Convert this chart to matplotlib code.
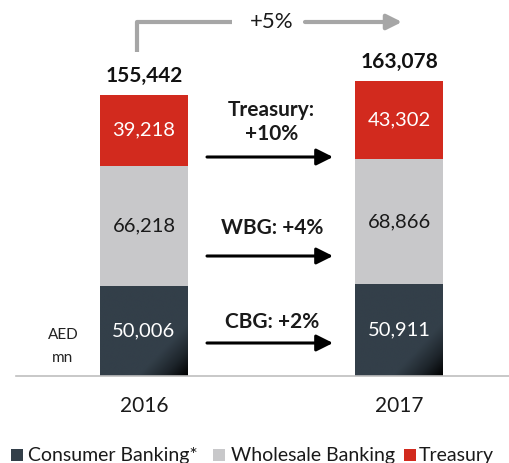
import numpy as np
import matplotlib
matplotlib.use("Agg")
import matplotlib.pyplot as plt
from matplotlib.colors import LinearSegmentedColormap

plt.rcParams["font.family"] = ["Lato", "DejaVu Sans"]

years = ["2016", "2017"]
segments = ["Consumer Banking*", "Wholesale Banking", "Treasury"]
consumer = [50006, 50911]
wholesale = [66218, 68866]
treasury = [39218, 43302]
totals = [155442, 163078]   # as reported (rounding in source)
growth_labels = ["CBG: +2%", "WBG: +4%", "Treasury:\n+10%"]
total_growth = "+5%"

RED, GREY, DARK = "#d22a1e", "#c8c8ca", "#333f49"

# figure is 510x463 px; axes fill it, limits chosen so bars land where the original has them
W, H = 510, 463
PX_X = 255.5          # px per category unit
PX_Y = 1 / 553.0      # px per AED mn
X0, BASE = 144, 376   # px position of first bar centre and baseline

fig = plt.figure(figsize=(W / 100, H / 100), dpi=100)
ax = fig.add_axes([0, 0, 1, 1])
ax.axis("off")


def px(x, y):
    return (x - X0) / PX_X, (BASE - y) / PX_Y


x = np.arange(len(years))
bw = 88 / PX_X
cb = np.array(consumer)
wb = np.array(wholesale)
tr = np.array(treasury)

# dark bars with a gradient toward the lower-right corner
cmap = LinearSegmentedColormap.from_list("cb", [DARK, DARK, "#1c2329", "#000000"])
u, v = np.meshgrid(np.linspace(0, 1, 100), np.linspace(0, 1, 100))
grad = np.clip((u + v - 0.9) / 1.1, 0, 1) ** 1.5
for xi, h in zip(x, cb):
    bar = ax.bar(xi, h, bw, color=DARK, lw=0)[0]
    im = ax.imshow(grad, cmap=cmap, extent=[xi - bw / 2, xi + bw / 2, 0, h],
                   aspect="auto", origin="upper", zorder=2)
    im.set_clip_path(bar)
ax.bar(x, wb, bw, bottom=cb, color=GREY, lw=0)
ax.bar(x, tr, bw, bottom=cb + wb, color=RED, lw=0)
ax.set_xlim(-X0 / PX_X, (W - X0) / PX_X)
ax.set_ylim(-(H - BASE) / PX_Y, BASE / PX_Y)

fs = 14.5
for xi in x:
    ax.text(xi, cb[xi] / 2, f"{cb[xi]:,}", color="white", ha="center", va="center", fontsize=fs, zorder=3)
    ax.text(xi, cb[xi] + wb[xi] / 2, f"{wb[xi]:,}", color="#1a1a1a", ha="center", va="center", fontsize=fs)
    ax.text(xi, cb[xi] + wb[xi] + tr[xi] / 2, f"{tr[xi]:,}", color="white", ha="center", va="center", fontsize=fs)
    ax.text(xi, cb[xi] + wb[xi] + tr[xi] + 5000, f"{totals[xi]:,}", ha="center", va="bottom",
            fontsize=15, fontweight="bold", color="#111111")
    ax.text(xi, px(0, 406)[1], years[xi], ha="center", va="center", fontsize=15, color="#1a1a1a")

# baseline
ax.plot([px(16, 0)[0], px(510, 0)[0]], [0, 0], color="#bfbfbf", lw=1.2)

# unit label
ax.text(*px(63, 335), "AED", ha="center", va="center", fontsize=11, color="#222222")
ax.text(*px(63, 358), "mn", ha="center", va="center", fontsize=11, color="#222222")

# segment growth arrows between bars
mid = 0.5
arrow_y = [343, 256, 157]
label_y = [322, 228, 122]
for ay, ly, lab in zip(arrow_y, label_y, growth_labels):
    ya = px(0, ay)[1]
    ax.annotate("", xy=(px(333, 0)[0], ya), xytext=(px(207, 0)[0], ya),
                arrowprops=dict(arrowstyle="-|>,head_length=1.0,head_width=0.5",
                                color="black", lw=2.2, shrinkA=0, shrinkB=0))
    ax.text(mid, px(0, ly)[1], lab, ha="center", va="center",
            fontsize=15, fontweight="bold", color="#1a1a1a", linespacing=1.3)

# total growth bracket arrow
ag = "#a6a6a6"
xl, yb = px(137, 52)
_, yt = px(0, 22)
ax.plot([xl, xl, px(232, 0)[0]], [yb, yt, yt], color=ag, lw=3, solid_capstyle="butt")
ax.annotate("", xy=(px(402, 0)[0], yt), xytext=(px(305, 0)[0], yt),
            arrowprops=dict(arrowstyle="-|>,head_length=0.9,head_width=0.45",
                            color=ag, lw=3, shrinkA=0, shrinkB=0))
ax.text(mid, yt, total_growth, ha="center", va="center", fontsize=16, color="#1a1a1a")

# legend row
ly = px(0, 455)[1]
sq_x = [17, 219, 410]
txt_x = [28, 231, 419]
for sx, tx, lab, c in zip(sq_x, txt_x, segments, [DARK, GREY, RED]):
    ax.scatter([px(sx, 0)[0]], [ly], marker="s", s=75, color=c, lw=0)
    ax.text(px(tx, 0)[0], ly, lab, ha="left", va="center", fontsize=14, color="#1a1a1a")

fig.savefig("out.png", dpi=100)
